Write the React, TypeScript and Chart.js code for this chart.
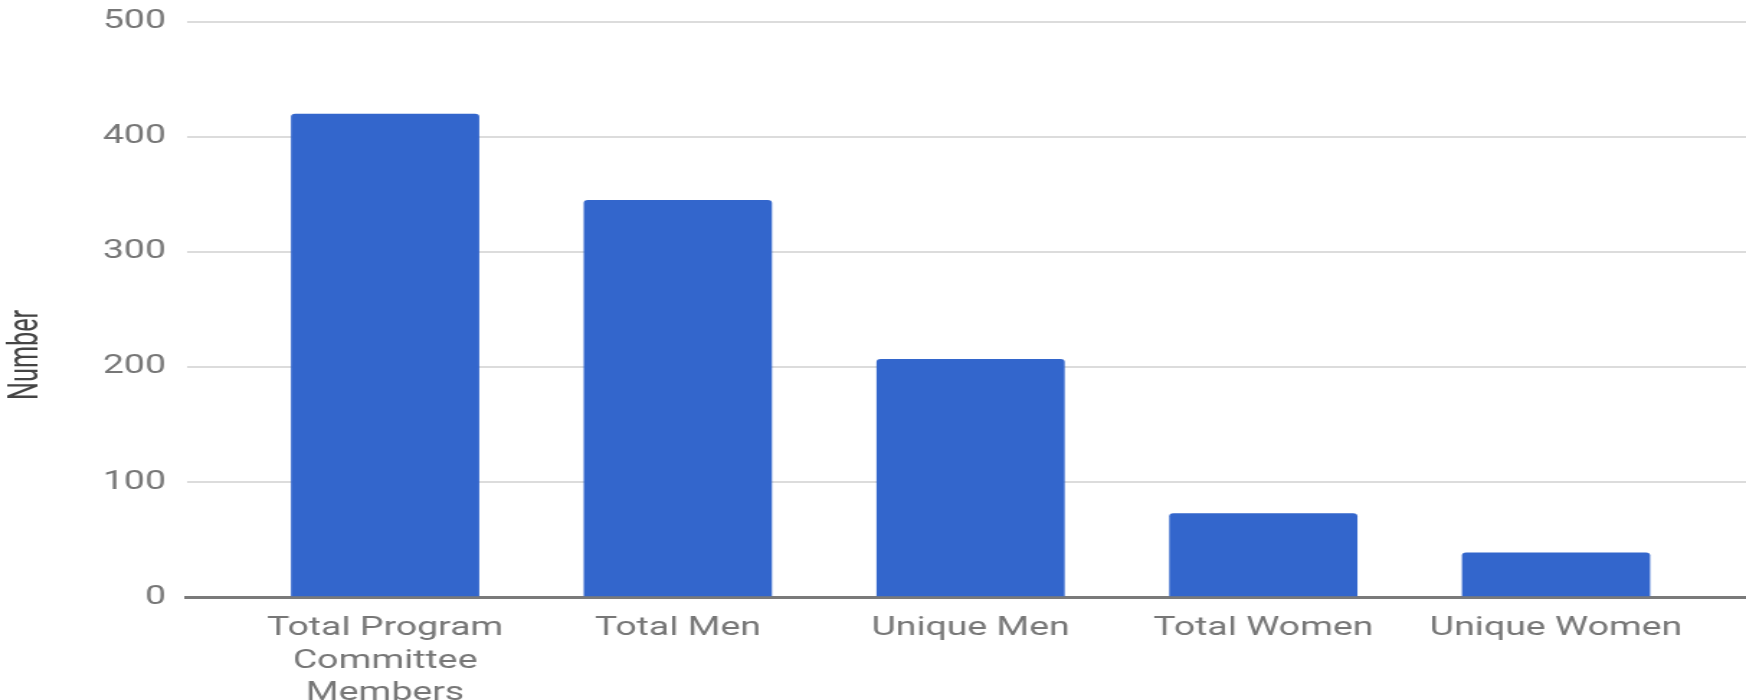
import React, { useEffect, useRef } from "react";
import { Chart, registerables } from "chart.js";

Chart.register(...registerables);

// Committee composition counts
const categories: string[][] = [
  ["Total Program", "Committee", "Members"],
  ["Total Men"],
  ["Unique Men"],
  ["Total Women"],
  ["Unique Women"],
];
const counts: number[] = [420, 345, 207, 73, 39];
const yTicks: number[] = [0, 100, 200, 300, 400, 500];
const yTitle = "Number";

// The drawing surface is rendered narrower and widened by CSS (wide lettering)
const STRETCH = 1.44;
const OUT_W = 1746;
const OUT_H = 700;
const IN_W = Math.round(OUT_W / STRETCH);

const FONT = "Roboto, 'Liberation Sans', Arial, sans-serif";
const BAR_COLOR = "#3366cc";
const TEXT_COLOR = "#777777";

const yTitlePlugin = {
  id: "yTitle",
  afterDraw(chart: Chart) {
    const { ctx, chartArea } = chart;
    const cy = chartArea.top + (chartArea.bottom - chartArea.top) * 0.579;
    ctx.save();
    ctx.translate(27 / STRETCH, cy);
    ctx.rotate(-Math.PI / 2);
    ctx.scale(0.97, 1.1);
    ctx.font = `26px ${FONT}`;
    ctx.fillStyle = "#444444";
    ctx.textAlign = "center";
    ctx.textBaseline = "middle";
    ctx.fillText(yTitle, 0, 0);
    ctx.restore();
  },
};

export default function App() {
  const canvasRef = useRef<HTMLCanvasElement | null>(null);

  useEffect(() => {
    document.body.style.margin = "0";
    const canvas = canvasRef.current;
    if (!canvas) return;

    const chart = new Chart(canvas, {
      type: "bar",
      data: {
        datasets: [
          {
            data: counts.map((v, i) => ({ x: i, y: v })),
            backgroundColor: BAR_COLOR,
            borderWidth: 0,
            borderRadius: { topLeft: 3, topRight: 3, bottomLeft: 0, bottomRight: 0 },
            borderSkipped: "bottom",
            categoryPercentage: 1,
            barPercentage: 0.643,
          },
        ],
      },
      options: {
        animation: false,
        responsive: false,
        devicePixelRatio: 1,
        layout: { padding: { top: 21.5, left: 0, right: 0, bottom: 0 } },
        plugins: {
          legend: { display: false },
          tooltip: { enabled: false },
        },
        scales: {
          x: {
            type: "linear",
            offset: false,
            min: -0.677,
            max: categories.length - 1 + 0.649,
            z: 1,
            grid: { display: false, drawTicks: false, offset: false },
            border: { display: true, color: "#7a7a7a", width: 3 },
            afterBuildTicks: (scale: any) => {
              scale.ticks = categories.map((_, i) => ({ value: i }));
            },
            afterFit: (scale: any) => {
              scale.height = 700 - 597.3 - 0;
              scale.paddingLeft = 0;
              scale.paddingRight = 0;
            },
            ticks: {
              autoSkip: false,
              maxRotation: 0,
              minRotation: 0,
              padding: 15,
              color: TEXT_COLOR,
              font: { family: FONT, size: 26, lineHeight: 1.25 },
              callback: (_v: any, index: number) => categories[index],
            },
          },
          y: {
            min: yTicks[0],
            max: yTicks[yTicks.length - 1],
            afterBuildTicks: (scale: any) => {
              scale.ticks = yTicks.map((v) => ({ value: v }));
            },
            afterFit: (scale: any) => {
              scale.width = 187 / STRETCH;
              scale.paddingTop = 0;
              scale.paddingBottom = 0;
            },
            grid: {
              drawTicks: false,
              color: (c: any) => (c.tick && c.tick.value === 0 ? "rgba(0,0,0,0)" : "#dcdcdc"),
              lineWidth: 2,
            },
            border: { display: false },
            ticks: {
              padding: 21 / STRETCH,
              color: TEXT_COLOR,
              font: { family: FONT, size: 26 },
            },
          },
        },
      },
      plugins: [yTitlePlugin],
    });

    let alive = true;
    if ((document as any).fonts && (document as any).fonts.ready) {
      (document as any).fonts.ready.then(() => {
        if (alive) chart.update();
      });
    }

    return () => {
      alive = false;
      chart.destroy();
    };
  }, []);

  return (
    <div style={{ width: OUT_W, height: OUT_H, overflow: "hidden" }}>
      <canvas
        ref={canvasRef}
        width={IN_W}
        height={OUT_H}
        style={{ width: `${OUT_W}px`, height: `${OUT_H}px`, display: "block" }}
      />
    </div>
  );
}
